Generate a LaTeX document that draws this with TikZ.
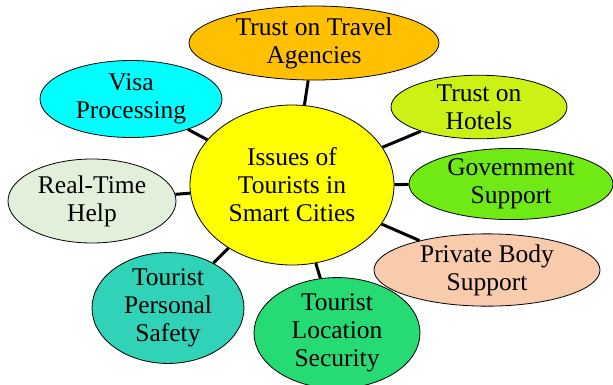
\documentclass[tikz,border=0pt]{standalone}
\usepackage{fontspec}
\setmainfont{Liberation Serif}
\usetikzlibrary{shapes.geometric}
\tikzset{
 bubble/.style={draw,ellipse,thick,inner sep=0pt,align=center,font=\fontsize{25.5}{28}\selectfont},
 link/.style={line width=3pt}
}
\begin{document}
\begin{tikzpicture}[x=1pt,y=-1pt]
 \useasboundingbox (0,0) rectangle (613,384); %画像の範囲
 \node[bubble,fill={rgb,255:red,255;green,255;blue,0},minimum width=204,minimum height=160] (issues) at (292,185) {Issues of\\Tourists in\\Smart Cities}; %中心
 \node[bubble,fill={rgb,255:red,255;green,192;blue,0},minimum width=250,minimum height=74] (agency) at (314,43) {Trust on Travel\\Agencies}; %上
 \node[bubble,fill={rgb,255:red,204;green,242;blue,21},minimum width=176,minimum height=62] (hotels) at (479,107) {Trust on\\Hotels}; %右上
 \node[bubble,fill={rgb,255:red,112;green,234;blue,20},minimum width=204,minimum height=69] (govt) at (511,184) {Government\\Support}; %右
 \node[bubble,fill={rgb,255:red,248;green,203;blue,173},minimum width=226,minimum height=72] (private) at (487,270) {Private Body\\Support}; %右下
 \node[bubble,fill={rgb,255:red,39;green,219;blue,116},minimum width=166,minimum height=96] (location) at (337,333) {Tourist\\Location\\Security}; %下
 \node[bubble,fill={rgb,255:red,49;green,211;blue,184},minimum width=152,minimum height=102] (personal) at (168,308) {Tourist\\Personal\\Safety}; %左下
 \node[bubble,fill={rgb,255:red,226;green,239;blue,218},minimum width=168,minimum height=84] (realtime) at (92,201) {Real-Time\\Help}; %左
 \node[bubble,fill={rgb,255:red,0;green,255;blue,255},minimum width=182,minimum height=77] (visa) at (131,99) {Visa\\Processing}; %左上
 \foreach \n in {agency,hotels,govt,private,location,personal,realtime,visa}
  \draw[link] (issues)--(\n); %中心から各項目へ
\end{tikzpicture}
\end{document}
